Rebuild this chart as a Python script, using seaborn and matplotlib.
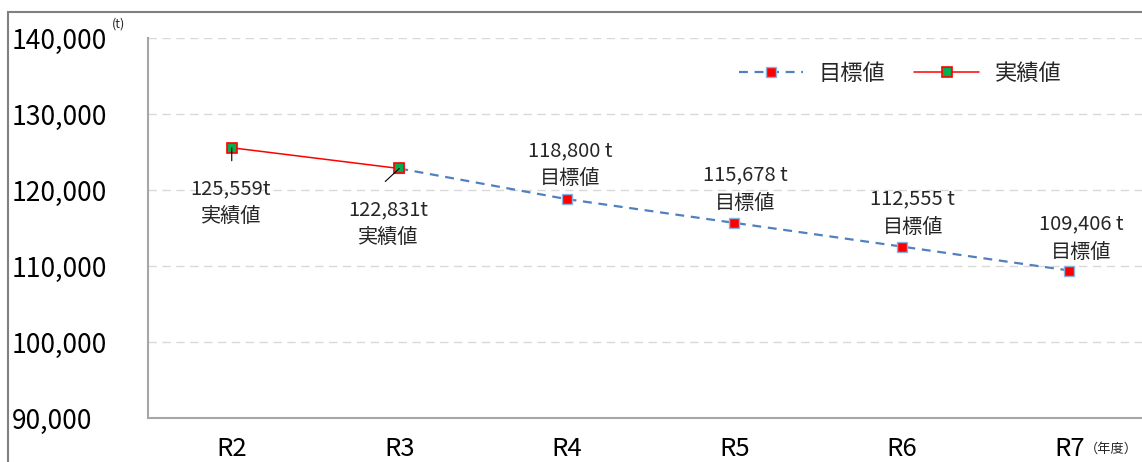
import numpy as np
import pandas as pd
import matplotlib
matplotlib.use("Agg")
import matplotlib.pyplot as plt
from matplotlib.patches import Rectangle
import seaborn as sns

sns.set_style("white")
plt.rcParams['font.family'] = ['Noto Sans CJK JP', 'DejaVu Sans']  # 日本語ラベル用

# データ
years = ['R2', 'R3', 'R4', 'R5', 'R6', 'R7']
actual_years = ['R2', 'R3']
actual_vals = [125559, 122831]
target_years = ['R3', 'R4', 'R5', 'R6', 'R7']
target_vals = [122831, 118800, 115678, 112555, 109406]
y_ticks = [90000, 100000, 110000, 120000, 130000, 140000]

# ラベル（表示用）
actual_labels = ['125,559t\n実績値', '122,831t\n実績値']
target_label_years = ['R4', 'R5', 'R6', 'R7']
target_labels = ['118,800 t\n目標値', '115,678 t\n目標値', '112,555 t\n目標値', '109,406 t\n目標値']

pos = {y: i for i, y in enumerate(years)}
df_t = pd.DataFrame({'x': [pos[y] for y in target_years], 'v': target_vals})
df_a = pd.DataFrame({'x': [pos[y] for y in actual_years], 'v': actual_vals})

fig = plt.figure(figsize=(11.42, 4.62), dpi=100)
ax = fig.add_axes([148 / 1142, 1 - 418 / 462, 1005 / 1142, 380 / 462])

blue = '#4F81BD'
sns.lineplot(data=df_t, x='x', y='v', ax=ax, color=blue, lw=1.6,
             linestyle=(0, (4, 3)), marker='s', markersize=7.5,
             markerfacecolor='#FF0000', markeredgecolor='#8DB3E2',
             markeredgewidth=1.0, label='目標値')
sns.lineplot(data=df_a, x='x', y='v', ax=ax, color='#FF0000', lw=1.1,
             marker='s', markersize=7, markerfacecolor='#00B050',
             markeredgecolor='#FF0000', markeredgewidth=1.2, label='実績値')

ax.set_xlim(-0.5, len(years) - 0.5)
ax.set_ylim(90000, 140000)
ax.set_xticks(range(len(years)))
ax.set_xticklabels(years)
ax.set_yticks(y_ticks)
ax.set_yticklabels([f'{v:,}' for v in y_ticks])
ax.set_xlabel('')
ax.set_ylabel('')

ax.tick_params(axis='both', length=0, colors='black')
ax.tick_params(axis='y', pad=98, labelsize=19)
ax.tick_params(axis='x', pad=13, labelsize=18.5)
for lab in ax.get_yticklabels():
    lab.set_ha('left')

for yv in y_ticks[1:]:
    ax.axhline(yv, color='#D9D9D9', lw=1, linestyle=(0, (6, 4)), zorder=0)

for s in ['top', 'right']:
    ax.spines[s].set_visible(False)
for s in ['left', 'bottom']:
    ax.spines[s].set_color('#A6A6A6')
    ax.spines[s].set_linewidth(1.5)

# 実績値ラベル（引出線つき）
a_offsets = [(-1, -31), (-11, -31)]
a_lines = [(0, -13), (-14, -13)]
for yr, val, txt, off, ln in zip(actual_years, actual_vals, actual_labels, a_offsets, a_lines):
    ax.annotate(txt, (pos[yr], val), xytext=off, textcoords='offset pixels',
                ha='center', va='top', fontsize=14.5, linespacing=1.4)
    ax.annotate('', (pos[yr], val), xytext=ln, textcoords='offset pixels',
                arrowprops=dict(arrowstyle='-', color='black', lw=0.8,
                                shrinkA=0, shrinkB=0))

# 目標値ラベル
t_offsets = [(3, 10), (11, 9), (11, 9), (12, 8)]
for yr, txt, off in zip(target_label_years, target_labels, t_offsets):
    val = target_vals[target_years.index(yr)]
    ax.annotate(txt, (pos[yr], val), xytext=off, textcoords='offset pixels',
                ha='center', va='bottom', fontsize=14.5, linespacing=1.45)

ax.legend(loc='center', bbox_to_anchor=(900 / 1142, 1 - 73 / 462),
          bbox_transform=fig.transFigure, ncol=2, frameon=False, fontsize=16,
          handlelength=2.9, handletextpad=0.7, columnspacing=1.3, borderpad=0)

fig.text(112 / 1142, 1 - 24 / 462, '(t)', fontsize=9, ha='left', va='center')
fig.text(1138 / 1142, 1 - 449 / 462, '（年度）', fontsize=9.5, ha='right', va='center')

# 外枠
fig.patches.append(Rectangle((8 / 1142, -0.2), 1.2, 0.2 + 1 - 12 / 462,
                             transform=fig.transFigure, fill=False,
                             edgecolor='#808080', lw=1.5))

fig.savefig('out.png', dpi=100)
